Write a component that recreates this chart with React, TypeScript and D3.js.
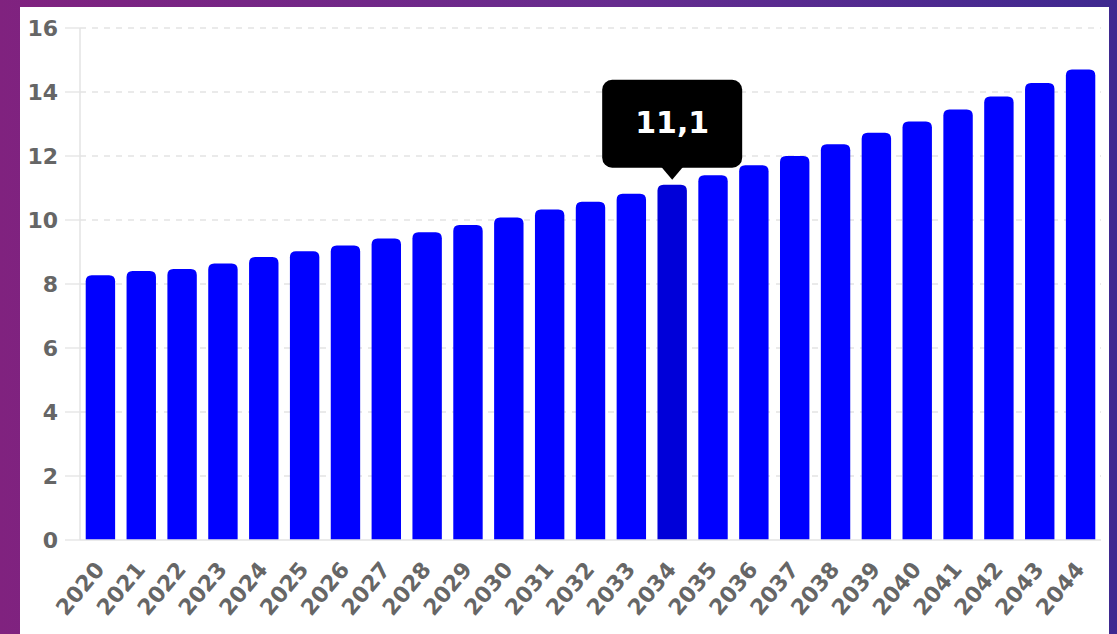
import React, { useRef, useEffect } from "react"
import * as d3 from "d3"

const years = [
  "2020", "2021", "2022", "2023", "2024", "2025", "2026", "2027", "2028", "2029",
  "2030", "2031", "2032", "2033", "2034", "2035", "2036", "2037", "2038", "2039",
  "2040", "2041", "2042", "2043", "2044",
]
const values = [
  8.27, 8.41, 8.47, 8.64, 8.84, 9.02, 9.2, 9.42, 9.62, 9.84,
  10.08, 10.33, 10.57, 10.82, 11.1, 11.4, 11.71, 12.0, 12.37, 12.73,
  13.08, 13.45, 13.86, 14.28, 14.7,
]
const yTicks = [0, 2, 4, 6, 8, 10, 12, 14, 16]
const hoverYear = "2034"

const W = 1117
const H = 634
const FONT = "DejaVu Sans, Verdana, sans-serif"

const App: React.FC = () => {
  const svgRef = useRef<SVGSVGElement>(null)

  useEffect(() => {
    const svg = d3.select(svgRef.current)
    svg.selectAll("*").remove()

    // purple background + white card
    const defs = svg.append("defs")
    const grad = defs.append("linearGradient").attr("id", "bg").attr("x1", "0").attr("x2", "1").attr("y1", "0").attr("y2", "0")
    grad.append("stop").attr("offset", "0%").attr("stop-color", "#80227f")
    grad.append("stop").attr("offset", "55%").attr("stop-color", "#672c8f")
    grad.append("stop").attr("offset", "100%").attr("stop-color", "#3e2990")
    svg.append("rect").attr("width", W).attr("height", H).attr("fill", "url(#bg)")
    svg.append("rect").attr("x", 20).attr("y", 7).attr("width", 1089).attr("height", H - 7).attr("fill", "#fff")

    const left = 80, right = 1101, top = 28, bottom = 540

    const x = d3.scaleBand<string>()
      .domain(years)
      .range([left, right])
      .padding(0)

    const y = d3.scaleLinear()
      .domain([0, 16])
      .range([bottom, top])

    const g = svg.append("g")

    // grid
    g.selectAll("line.grid")
      .data(yTicks.filter(t => t > 0))
      .enter().append("line")
      .attr("x1", left).attr("x2", right)
      .attr("y1", d => y(d)).attr("y2", d => y(d))
      .attr("stroke", "#e3e3e3").attr("stroke-width", 1.3)
      .attr("stroke-dasharray", "6,6")

    // y ticks
    g.selectAll("line.ytick")
      .data(yTicks)
      .enter().append("line")
      .attr("x1", 65).attr("x2", left)
      .attr("y1", d => y(d)).attr("y2", d => y(d))
      .attr("stroke", "#e3e3e3").attr("stroke-width", 1.3)

    g.append("line")
      .attr("x1", left).attr("x2", left).attr("y1", top).attr("y2", bottom)
      .attr("stroke", "#e3e3e3").attr("stroke-width", 1.5)

    // bars
    const bw = x.bandwidth() * 0.72
    const r = 6
    const barPath = (v: number, yr: string) => {
      const x0 = x(yr)! + (x.bandwidth() - bw) / 2
      const x1 = x0 + bw
      const yt = y(v)
      const yb = y(0)
      return `M${x0},${yb}V${yt + r}Q${x0},${yt} ${x0 + r},${yt}H${x1 - r}Q${x1},${yt} ${x1},${yt + r}V${yb}Z`
    }
    g.selectAll("path.bar")
      .data(values)
      .enter().append("path")
      .attr("d", (d, i) => barPath(d, years[i]))
      .attr("fill", (d, i) => years[i] === hoverYear ? "#0000d9" : "#0000ff")

    g.append("line")
      .attr("x1", left).attr("x2", right).attr("y1", bottom).attr("y2", bottom)
      .attr("stroke", "#e3e3e3").attr("stroke-width", 1.5)

    // y labels
    g.selectAll("text.ylab")
      .data(yTicks)
      .enter().append("text")
      .attr("x", 58).attr("y", d => y(d))
      .attr("dy", "0.36em")
      .attr("text-anchor", "end")
      .attr("font-family", FONT)
      .attr("font-weight", "bold")
      .attr("font-size", 22)
      .attr("fill", "#666")
      .text(d => d)

    // x labels
    g.selectAll("text.xlab")
      .data(years)
      .enter().append("text")
      .attr("transform", d => `translate(${x(d)! + x.bandwidth() / 2 - 1},${565}) rotate(-50)`)
      .attr("dy", "0.36em")
      .attr("text-anchor", "end")
      .attr("font-family", FONT)
      .attr("font-weight", "bold")
      .attr("font-size", 22)
      .attr("fill", "#666")
      .text(d => d)

    // tooltip
    const hi = years.indexOf(hoverYear)
    const cx = x(hoverYear)! + x.bandwidth() / 2
    const tipY = y(values[hi]) - 5
    const tw = 140, th = 88, tr = 10
    const tx0 = cx - tw / 2
    const ty1 = tipY - 12
    const ty0 = ty1 - th
    const tip = g.append("g")
    tip.append("rect")
      .attr("x", tx0).attr("y", ty0).attr("width", tw).attr("height", th)
      .attr("rx", tr).attr("fill", "#000")
    tip.append("path")
      .attr("d", `M${cx - 11},${ty1 - 1}L${cx},${tipY}L${cx + 11},${ty1 - 1}Z`)
      .attr("fill", "#000")
    tip.append("text")
      .attr("x", cx).attr("y", ty0 + th / 2 - 2)
      .attr("dy", "0.36em")
      .attr("text-anchor", "middle")
      .attr("font-family", FONT)
      .attr("font-weight", "bold")
      .attr("font-size", 30)
      .attr("fill", "#fff")
      .text(values[hi].toFixed(1).replace(".", ","))
  }, [])

  return (
    <svg
      ref={svgRef}
      width={W}
      height={H}
      style={{ position: "absolute", left: 0, top: 0, display: "block" }}
    />
  )
}

export default App
